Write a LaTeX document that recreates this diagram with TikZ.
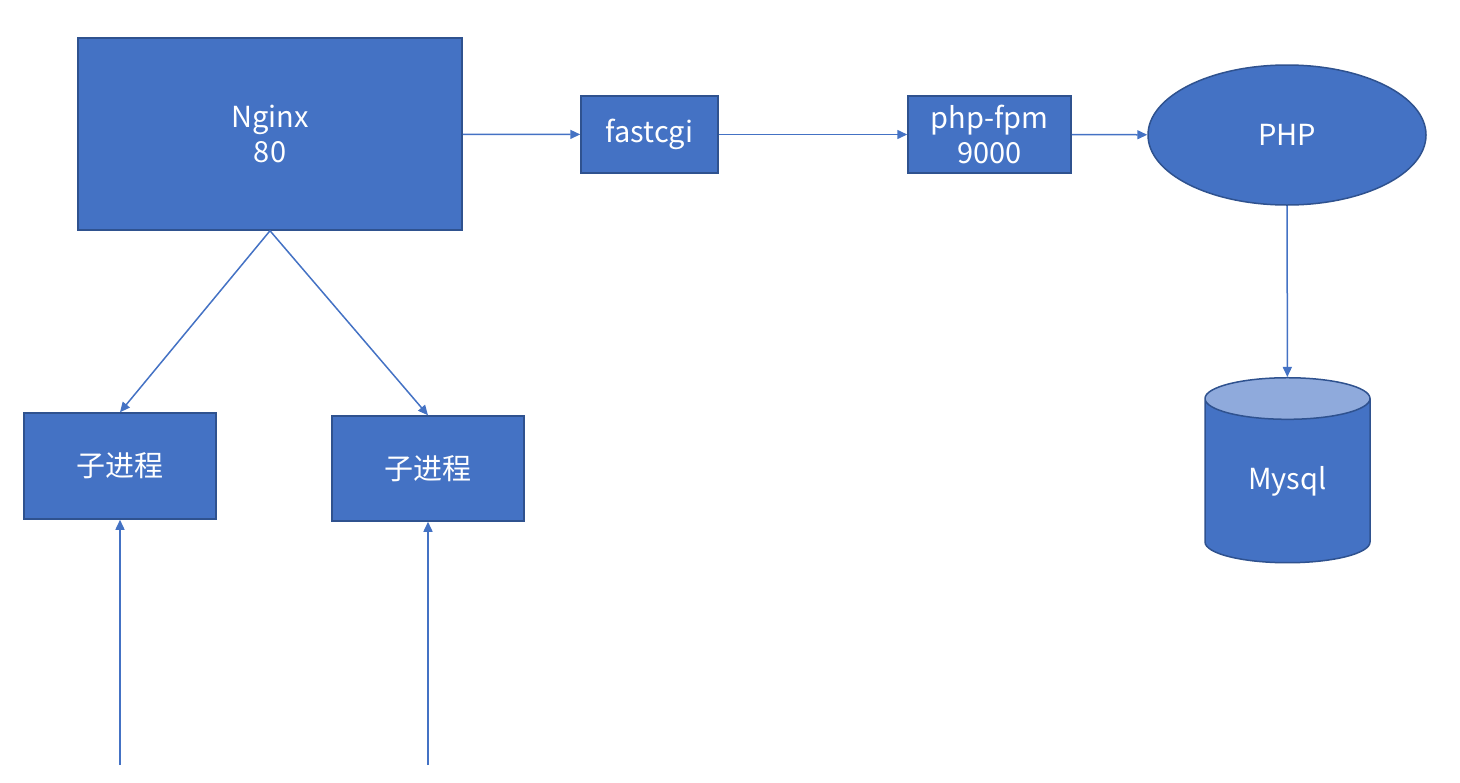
\documentclass[tikz,border=0pt]{standalone}
\usepackage{fontspec}
\setmainfont{Noto Sans CJK SC}
\usepackage{tikz}
\usetikzlibrary{arrows.meta, shapes.geometric}

\definecolor{boxblue}{HTML}{4472C4}
\definecolor{boxline}{HTML}{2F528F}
\definecolor{toplight}{HTML}{8FAADC}

\begin{document}
\begin{tikzpicture}[x=0.5pt, y=-0.5pt,
	box/.style={draw=boxline, line width=0.75pt, fill=boxblue, text=white, align=center,
		font=\fontsize{14.5pt}{17.5pt}\selectfont, inner sep=0pt},
	link/.style={draw=boxblue, line width=0.75pt, -{Triangle[length=5pt, width=4.5pt]}}
]

\useasboundingbox (0,0) rectangle (1460,782);

\node [box, minimum width=192pt, minimum height=96pt] (nginx) at (270,134) {
	Nginx \\
	80
};

\node [box, minimum width=68.5pt, minimum height=38.5pt] (fastcgi) at (649.5,134.5) {fastcgi};

\node [box, minimum width=81.5pt, minimum height=38.5pt] (phpfpm) at (989.5,134.5) {
	php-fpm \\
	9000
};

\node [box, ellipse, minimum width=139pt, minimum height=70pt] (php) at (1287,135) {PHP};

\node [box, fill=none, cylinder, shape border rotate=90, aspect=0.53, cylinder uses custom fill,
	cylinder body fill=boxblue, cylinder end fill=toplight,
	minimum width=82.5pt, minimum height=92.5pt] (mysql) at (1287.5,481) {Mysql};

\node [box, minimum width=96pt, minimum height=53pt] (child1) at (120,466) {子进程};
\node [box, minimum width=96pt, minimum height=52.5pt] (child2) at (428,468.5) {子进程};

\coordinate (in1) at (120,765);
\coordinate (in2) at (428,765);

\path [link] (nginx) -- (fastcgi);
\path [link] (fastcgi) -- (phpfpm);
\path [link] (phpfpm) -- (php);
\path [link] (php) -- (mysql);
\path [link] (nginx.south) -- (child1.north);
\path [link] (nginx.south) -- (child2.north);
\path [link] (in1) -- (child1);
\path [link] (in2) -- (child2);

\end{tikzpicture}
\end{document}
